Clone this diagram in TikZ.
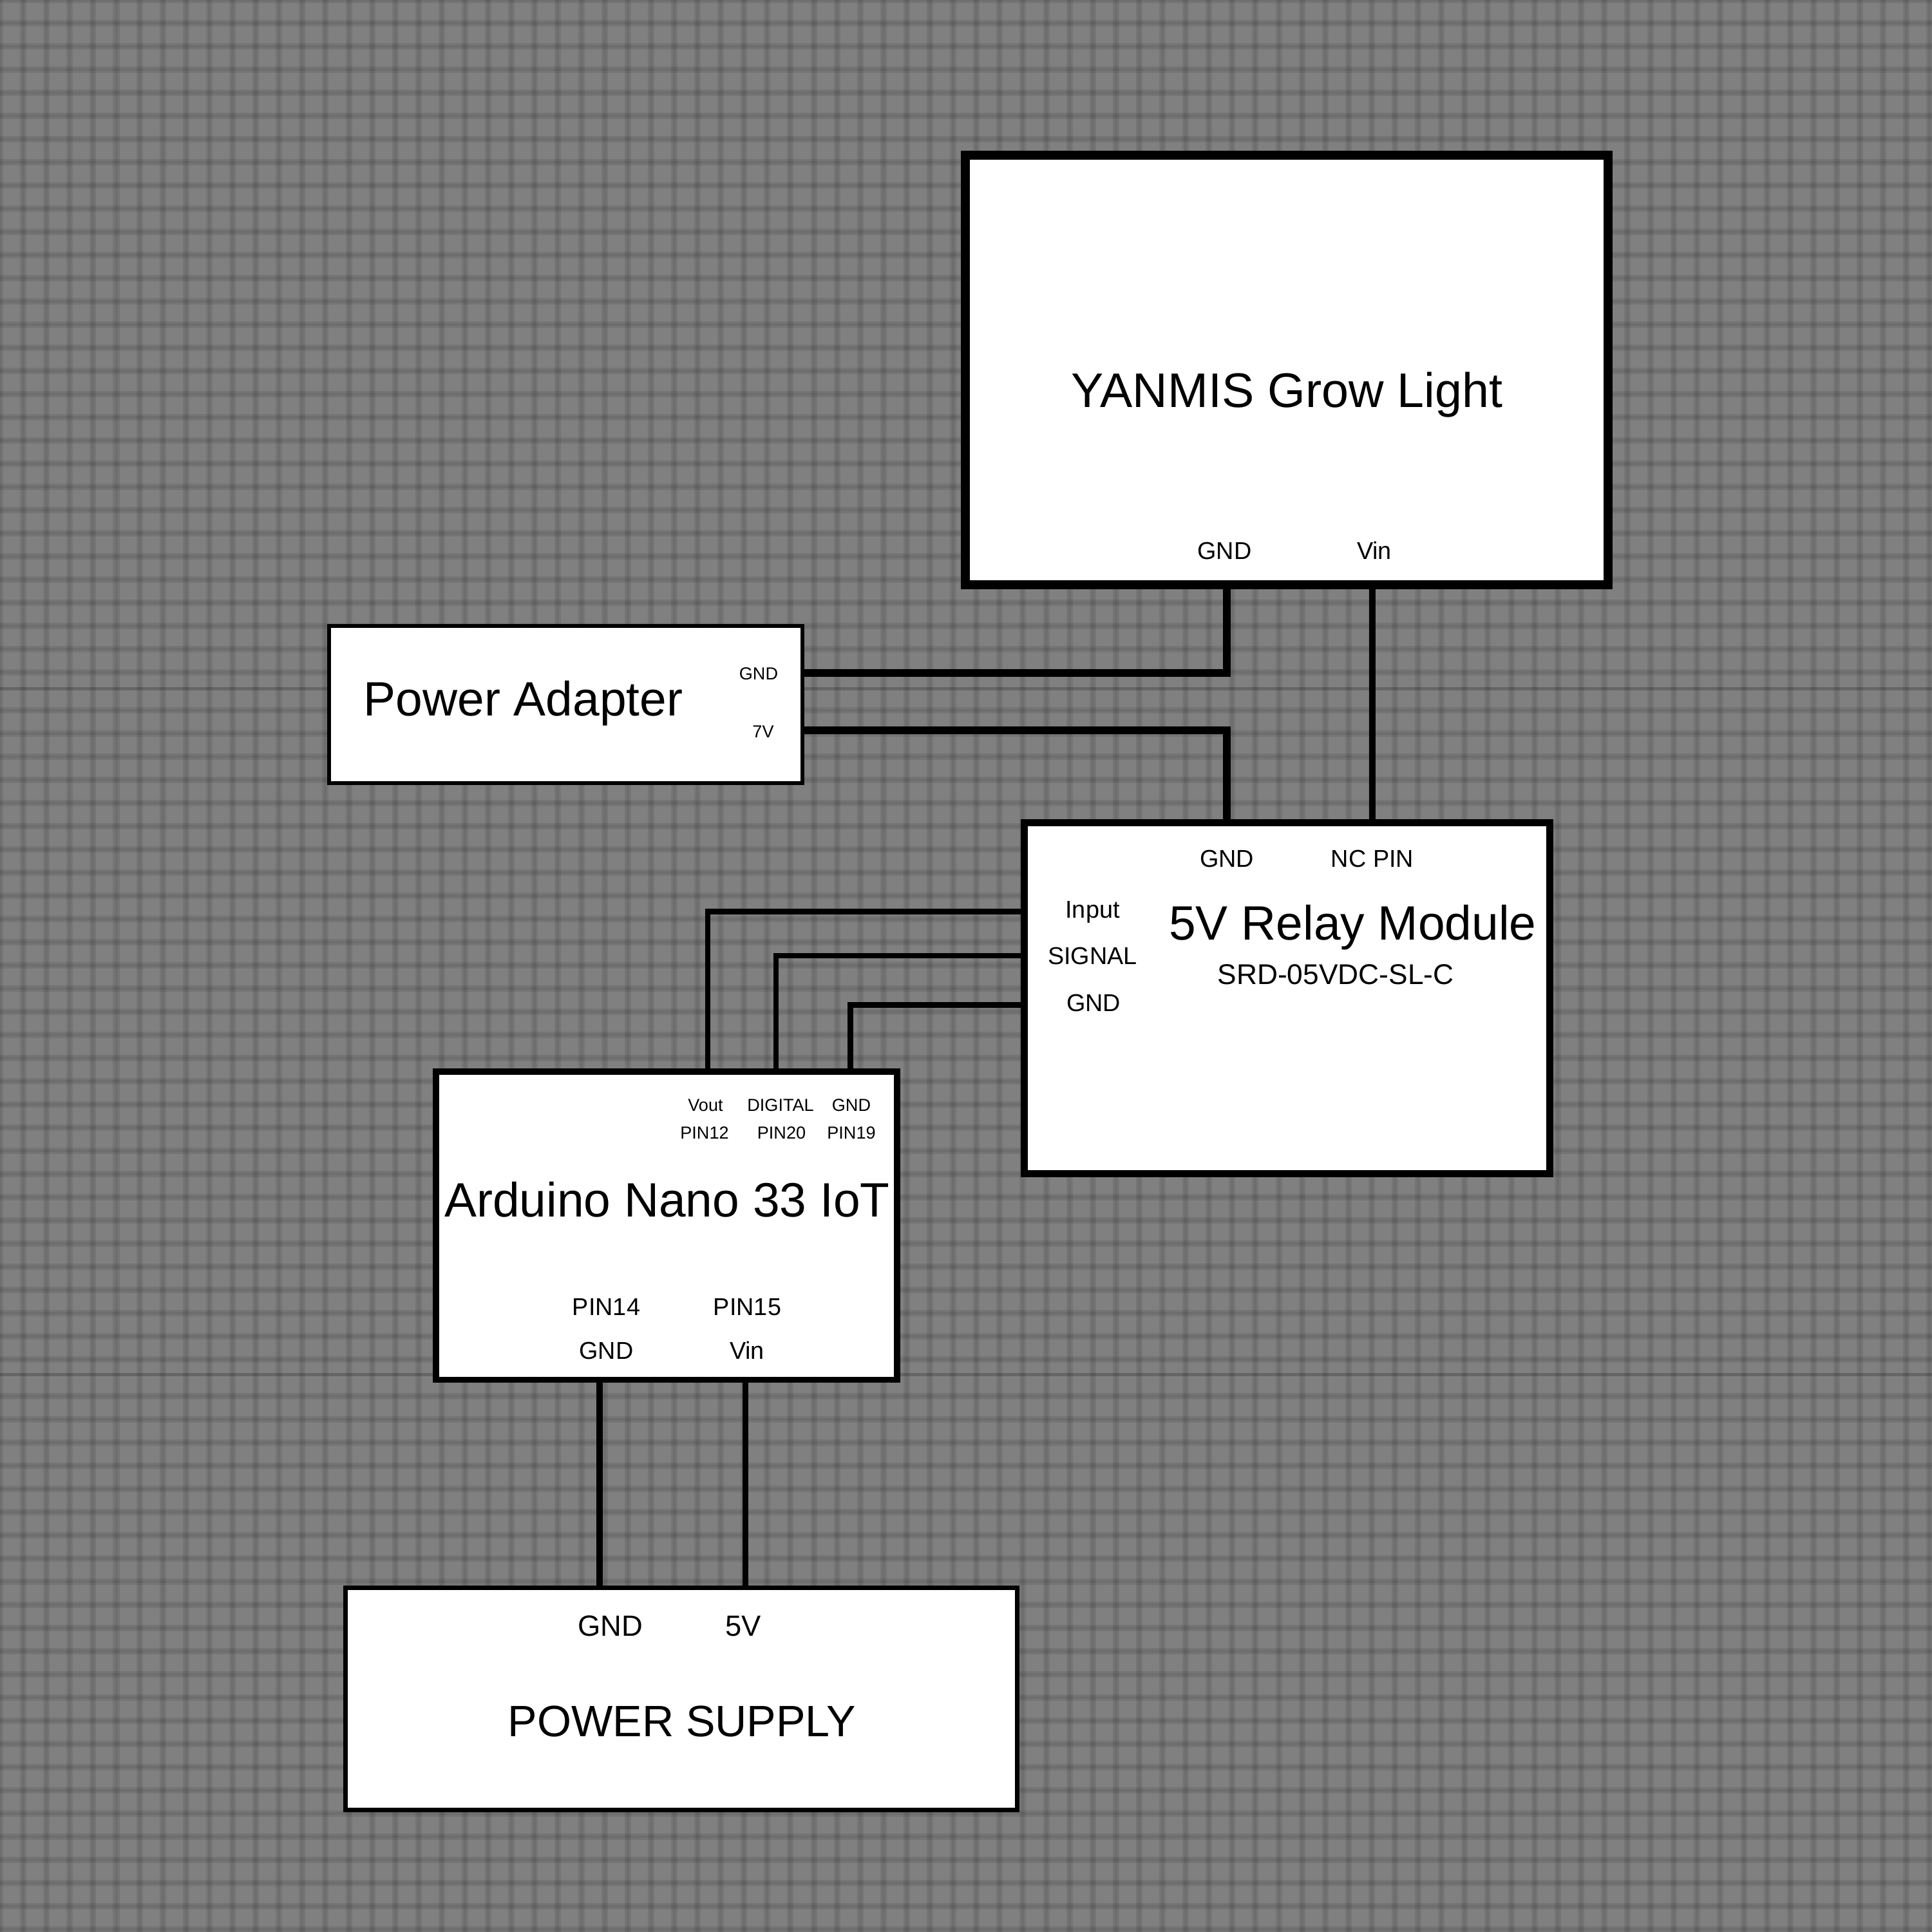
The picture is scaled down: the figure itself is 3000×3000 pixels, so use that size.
\documentclass[tikz,border=0pt]{standalone}
\usepackage{fontspec}
\setmainfont{Liberation Sans}
\definecolor{sheet}{HTML}{808080}

\begin{document}
\begin{tikzpicture}[x=0.01cm,y=-0.01cm,
                main box/.style n args={3}{draw,fill=white,inner sep=0pt,outer sep=0pt,
                  minimum width=#1,minimum height=#2,line width=#3},
                wire/.style={draw,line width=#1*0.01cm},
                grid wide/.style={black,opacity=0.08,line width=0.1cm},
                grid thin/.style={black,opacity=0.06,line width=0.04cm},
                seam line/.style={black,opacity=0.2,line width=0.05cm},
                title text/.style={anchor=base,inner sep=0pt,font=\fontsize{21.3}{25}\selectfont},
                light text/.style={anchor=base,inner sep=0pt,font=\fontsize{21.45}{25}\selectfont},
                supply text/.style={anchor=base,inner sep=0pt,font=\fontsize{19.4}{23}\selectfont},
                part text/.style={anchor=base,inner sep=0pt,font=\fontsize{12.6}{15}\selectfont},
                pin text/.style={anchor=base,inner sep=0pt,font=\fontsize{10.75}{13}\selectfont},
                big pin text/.style={anchor=base,inner sep=0pt,font=\fontsize{12.9}{15}\selectfont},
                small pin text/.style={anchor=base,inner sep=0pt,font=\fontsize{7.7}{9}\selectfont}]

  \useasboundingbox (0,0) rectangle (3000,3000);
  \fill[sheet] (0,0) rectangle (3000,3000);

  \foreach \k in {0,...,83} {
    \draw[grid wide] (36.1*\k,0) -- (36.1*\k,3000);
    \draw[grid thin] (36.1*\k,0) -- (36.1*\k,3000);
  }
  \foreach \row in {0,36,...,1044,1103,1139,...,2111,2168,2204,...,2996} {
    \draw[grid wide] (0,\row) -- (3000,\row);
    \draw[grid thin] (0,\row) -- (3000,\row);
  }
  \draw[seam line] (0,1069) -- (3000,1069);
  \draw[seam line] (0,2134) -- (3000,2134);

  \node[main box={9.98cm}{6.67cm}{1.4mm}] (light) at (1998,574.5) {};
  \node[main box={7.35cm}{2.44cm}{0.55mm}] (adapter) at (878.5,1094) {};
  \node[main box={8.15cm}{5.44cm}{1.1mm}] (relay) at (1998.5,1550) {};
  \node[main box={7.16cm}{4.785cm}{0.95mm}] (nano) at (1035,1903.25) {};
  \node[main box={10.43cm}{3.45cm}{0.7mm}] (supply) at (1058,2638) {};

  \node[light text] (light title) at (1998.5,632) {YANMIS Grow Light};
  \node[pin text] (light gnd) at (1901.5,868) {GND};
  \node[pin text] (light vin) at (2134,868) {Vin};

  \node[title text] (adapter title) at (812.5,1111) {Power Adapter};
  \node[small pin text] (adapter gnd) at (1178,1055) {GND};
  \node[small pin text] (adapter 7v) at (1185,1145) {7V};

  \node[title text] (relay title) at (2100.5,1459) {5V Relay Module};
  \node[part text] (relay part) at (2074,1528) {SRD-05VDC-SL-C};
  \node[pin text] (relay gnd) at (1905,1346) {GND};
  \node[pin text] (relay nc) at (2131,1346) {NC PIN};
  \node[pin text] (relay input) at (1696.5,1425) {Input};
  \node[pin text] (relay signal) at (1696.5,1497) {SIGNAL};
  \node[pin text] (relay ground) at (1698,1570) {GND};

  \node[title text] (nano title) at (1036,1889) {Arduino Nano 33 IoT};
  \node[small pin text] (nano vout) at (1095.5,1725.5) {Vout};
  \node[small pin text] (nano digital) at (1212,1725.5) {DIGITAL};
  \node[small pin text] (nano gnd top) at (1322,1725.5) {GND};
  \node[small pin text] (nano pin12) at (1094,1768) {PIN12};
  \node[small pin text] (nano pin20) at (1213.5,1768) {PIN20};
  \node[small pin text] (nano pin19) at (1322,1768) {PIN19};
  \node[pin text] (nano pin14) at (941.5,2042.5) {PIN14};
  \node[pin text] (nano pin15) at (1160.5,2042.5) {PIN15};
  \node[pin text] (nano gnd) at (941.5,2110) {GND};
  \node[pin text] (nano vin) at (1160,2110) {Vin};

  \node[supply text] (supply title) at (1059,2696) {POWER SUPPLY};
  \node[big pin text] (supply gnd) at (948,2540) {GND};
  \node[big pin text] (supply 5v) at (1154.5,2540) {5V};

  \draw[wire=11.5] (adapter.east |- 0,1045) -| (light.south -| 1905,0);
  \draw[wire=11.5] (adapter.east |- 0,1134) -| (relay.north -| 1905,0);
  \draw[wire=10] (light.south -| 2131,0) -- (relay.north -| 2131,0);
  \draw[wire=8.5] (nano.north -| 1099,0) |- (relay.west |- 0,1415.5);
  \draw[wire=8] (nano.north -| 1205,0) |- (relay.west |- 0,1483.5);
  \draw[wire=9] (nano.north -| 1320,0) |- (relay.west |- 0,1560);
  \draw[wire=9.5] (nano.south -| 931,0) -- (supply.north -| 931,0);
  \draw[wire=9.5] (nano.south -| 1157.5,0) -- (supply.north -| 1157.5,0);

\end{tikzpicture}
\end{document}
